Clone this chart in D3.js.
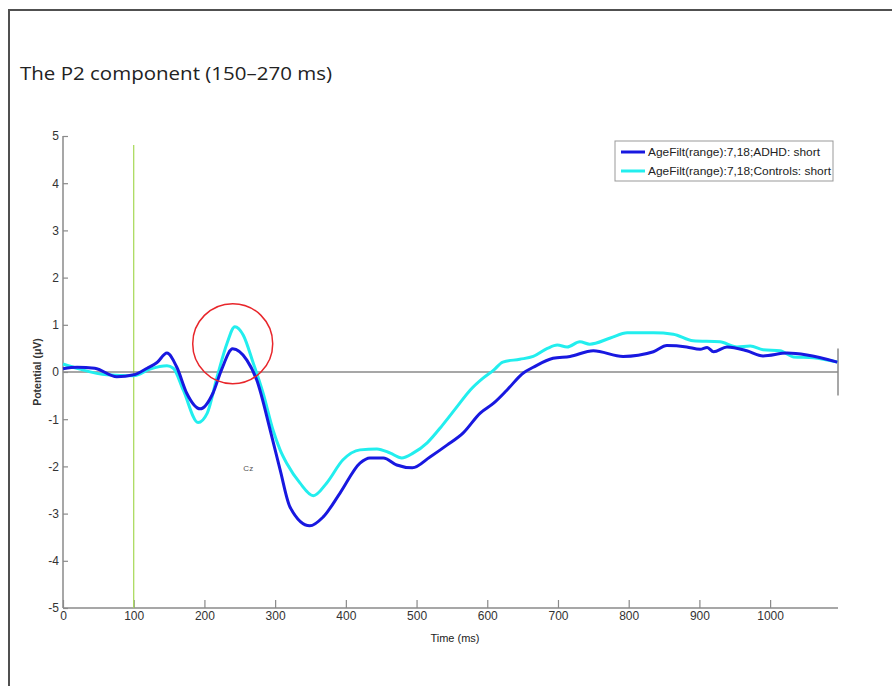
<!DOCTYPE html>
<html>
<head>
<meta charset="utf-8">
<script src="https://cdn.jsdelivr.net/npm/d3@7"></script>
<style>
  body { margin: 0; background: #fff; }
  svg { display: block; }
</style>
</head>
<body>
<div id="chart"></div>
<script>
// ERP waveform at Cz, values in microvolts
var adhdTime = [0, 20, 45, 76, 100, 119, 133, 147, 161, 175, 194, 212, 224, 240, 260, 274, 293, 307,
  321, 349, 368, 392, 420, 434, 453, 472, 494, 519, 543, 566, 590, 609, 628, 651, 665, 693, 717,
  750, 792, 835, 854, 882, 901, 911, 920, 939, 967, 990, 1024, 1052, 1095];
var adhdValue = [0.07, 0.1, 0.08, -0.1, -0.06, 0.08, 0.2, 0.4, 0.1, -0.45, -0.78, -0.45, 0.04, 0.49, 0.25, -0.17, -1.23, -2.07,
  -2.86, -3.26, -3.07, -2.56, -1.93, -1.82, -1.82, -1.97, -2.03, -1.8, -1.55, -1.29, -0.87, -0.66, -0.38, -0.02, 0.1, 0.29, 0.33,
  0.45, 0.33, 0.43, 0.56, 0.53, 0.48, 0.52, 0.43, 0.53, 0.45, 0.34, 0.4, 0.36, 0.21];

var ctrlTime = [0, 24, 62, 100, 123, 147, 156, 170, 191, 204, 218, 232, 243, 255, 269, 283, 297, 307,
  317, 335, 354, 373, 396, 420, 444, 463, 479, 495, 515, 537, 557, 576, 594, 609, 622, 646, 665,
  685, 699, 713, 731, 745, 774, 798, 835, 863, 891, 929, 953, 972, 990, 1014, 1033, 1061, 1095];
var ctrlValue = [0.17, 0.06, -0.06, -0.08, 0.06, 0.13, 0.08, -0.38, -1.07, -0.87, -0.1, 0.61, 0.96, 0.78, 0.19, -0.45, -1.23, -1.65,
  -1.95, -2.35, -2.62, -2.35, -1.86, -1.65, -1.63, -1.72, -1.82, -1.72, -1.5, -1.12, -0.74, -0.38, -0.13, 0.04, 0.21, 0.27, 0.33,
  0.5, 0.57, 0.53, 0.64, 0.59, 0.72, 0.83, 0.83, 0.8, 0.66, 0.64, 0.53, 0.55, 0.47, 0.45, 0.32, 0.3, 0.21];

var seriesNames = ["AgeFilt(range):7,18;ADHD: short", "AgeFilt(range):7,18;Controls: short"];
var seriesColors = ["#1818e0", "#22eeee"];
var xTicks = [0, 100, 200, 300, 400, 500, 600, 700, 800, 900, 1000];
var yTicks = [-5, -4, -3, -2, -1, 0, 1, 2, 3, 4, 5];
var stimTime = 100;
var p2Center = [240, 0.6];

var W = 892, H = 686;
var svg = d3.select("#chart").append("svg").attr("width", W).attr("height", H);

// outer frame
svg.append("path")
  .attr("d", "M9," + H + " V10 H" + W)
  .attr("fill", "none").attr("stroke", "#505050").attr("stroke-width", 2);

svg.append("text")
  .attr("x", 20).attr("y", 80)
  .attr("textLength", 312).attr("lengthAdjust", "spacingAndGlyphs")
  .style("font-family", "Open Sans")
  .style("font-size", "19px")
  .style("fill", "#222")
  .text("The P2 component (150\u2013270 ms)");

var x = d3.scaleLinear().domain([0, 1096]).range([63, 838]);
var y = d3.scaleLinear().domain([-5, 5]).range([608, 136]);

var axisColor = "#8a8a8a";
var labelFont = "Liberation Sans";
var plainNum = function(d) { return String(d); };

// y axis
var gy = svg.append("g").attr("transform", "translate(" + x(0) + ",0)")
  .call(d3.axisRight(y).tickValues(yTicks).tickSize(5).tickFormat(plainNum));
gy.select(".domain").attr("stroke", axisColor).attr("stroke-width", 1.5).attr("d", "M0," + y(5) + "V" + y(-5));
gy.selectAll(".tick line").attr("stroke", axisColor).attr("stroke-width", 1.2);
gy.selectAll(".tick text")
  .attr("x", -4).attr("text-anchor", "end")
  .style("font-family", labelFont).style("font-size", "12px").style("fill", "#333");

// x axis
var gx = svg.append("g").attr("transform", "translate(0," + y(-5) + ")")
  .call(d3.axisBottom(x).tickValues(xTicks).tickSize(-8).tickFormat(plainNum));
gx.select(".domain").attr("stroke", axisColor).attr("stroke-width", 1.5).attr("d", "M" + x(0) + ",0H" + x(1096));
gx.selectAll(".tick line").attr("stroke", axisColor).attr("stroke-width", 1.2);
gx.selectAll(".tick text")
  .attr("y", 3).attr("dy", "0.71em")
  .style("font-family", labelFont).style("font-size", "12px").style("fill", "#333");

svg.append("text")
  .attr("x", 455).attr("y", 642).attr("text-anchor", "middle")
  .style("font-family", labelFont).style("font-size", "11px").style("fill", "#222")
  .text("Time (ms)");

svg.append("text")
  .attr("transform", "translate(41," + y(0) + ") rotate(-90)")
  .attr("text-anchor", "middle")
  .style("font-family", labelFont).style("font-size", "10.5px").style("font-weight", "bold").style("fill", "#333")
  .text("Potential (\u03bcV)");

// stimulus onset marker
svg.append("line")
  .attr("x1", x(stimTime)).attr("x2", x(stimTime))
  .attr("y1", 145).attr("y2", y(-5))
  .attr("stroke", "#a6d854").attr("stroke-width", 1.2);

// zero line and end marker
svg.append("line")
  .attr("x1", x(0)).attr("x2", x(1096)).attr("y1", y(0)).attr("y2", y(0))
  .attr("stroke", axisColor).attr("stroke-width", 1.5);
svg.append("line")
  .attr("x1", x(1096)).attr("x2", x(1096)).attr("y1", y(0.5)).attr("y2", y(-0.5))
  .attr("stroke", axisColor).attr("stroke-width", 1.5);

var line = d3.line()
  .x(function(d) { return x(d[0]); })
  .y(function(d) { return y(d[1]); })
  .curve(d3.curveMonotoneX);

var seriesData = [d3.zip(adhdTime, adhdValue), d3.zip(ctrlTime, ctrlValue)];

// draw controls first so ADHD sits on top where they cross
[1, 0].forEach(function(i) {
  svg.append("path")
    .datum(seriesData[i])
    .attr("d", line)
    .attr("fill", "none")
    .attr("stroke", seriesColors[i])
    .attr("stroke-width", 3)
    .attr("stroke-linejoin", "round");
});

svg.append("text")
  .attr("x", x(262)).attr("y", y(-2.03)).attr("text-anchor", "middle").attr("dy", "0.35em")
  .style("font-family", labelFont).style("font-size", "8px").style("fill", "#555")
  .text("Cz");

// P2 highlight circle
svg.append("circle")
  .attr("cx", x(p2Center[0])).attr("cy", y(p2Center[1])).attr("r", 40)
  .attr("fill", "none").attr("stroke", "#e8262b").attr("stroke-width", 1.5);

// legend
var legend = svg.append("g").attr("transform", "translate(615,141)");
legend.append("rect")
  .attr("width", 218).attr("height", 40)
  .attr("fill", "#fff").attr("stroke", "#999").attr("stroke-width", 1);
seriesNames.forEach(function(name, i) {
  var ly = 11 + i * 19;
  legend.append("line")
    .attr("x1", 6).attr("x2", 30).attr("y1", ly).attr("y2", ly)
    .attr("stroke", seriesColors[i]).attr("stroke-width", 3);
  legend.append("text")
    .attr("x", 33).attr("y", ly).attr("dy", "0.35em")
    .attr("textLength", i === 0 ? 172 : 183).attr("lengthAdjust", "spacingAndGlyphs")
    .style("font-family", labelFont).style("font-size", "11px").style("fill", "#222")
    .text(name);
});
</script>
</body>
</html>
